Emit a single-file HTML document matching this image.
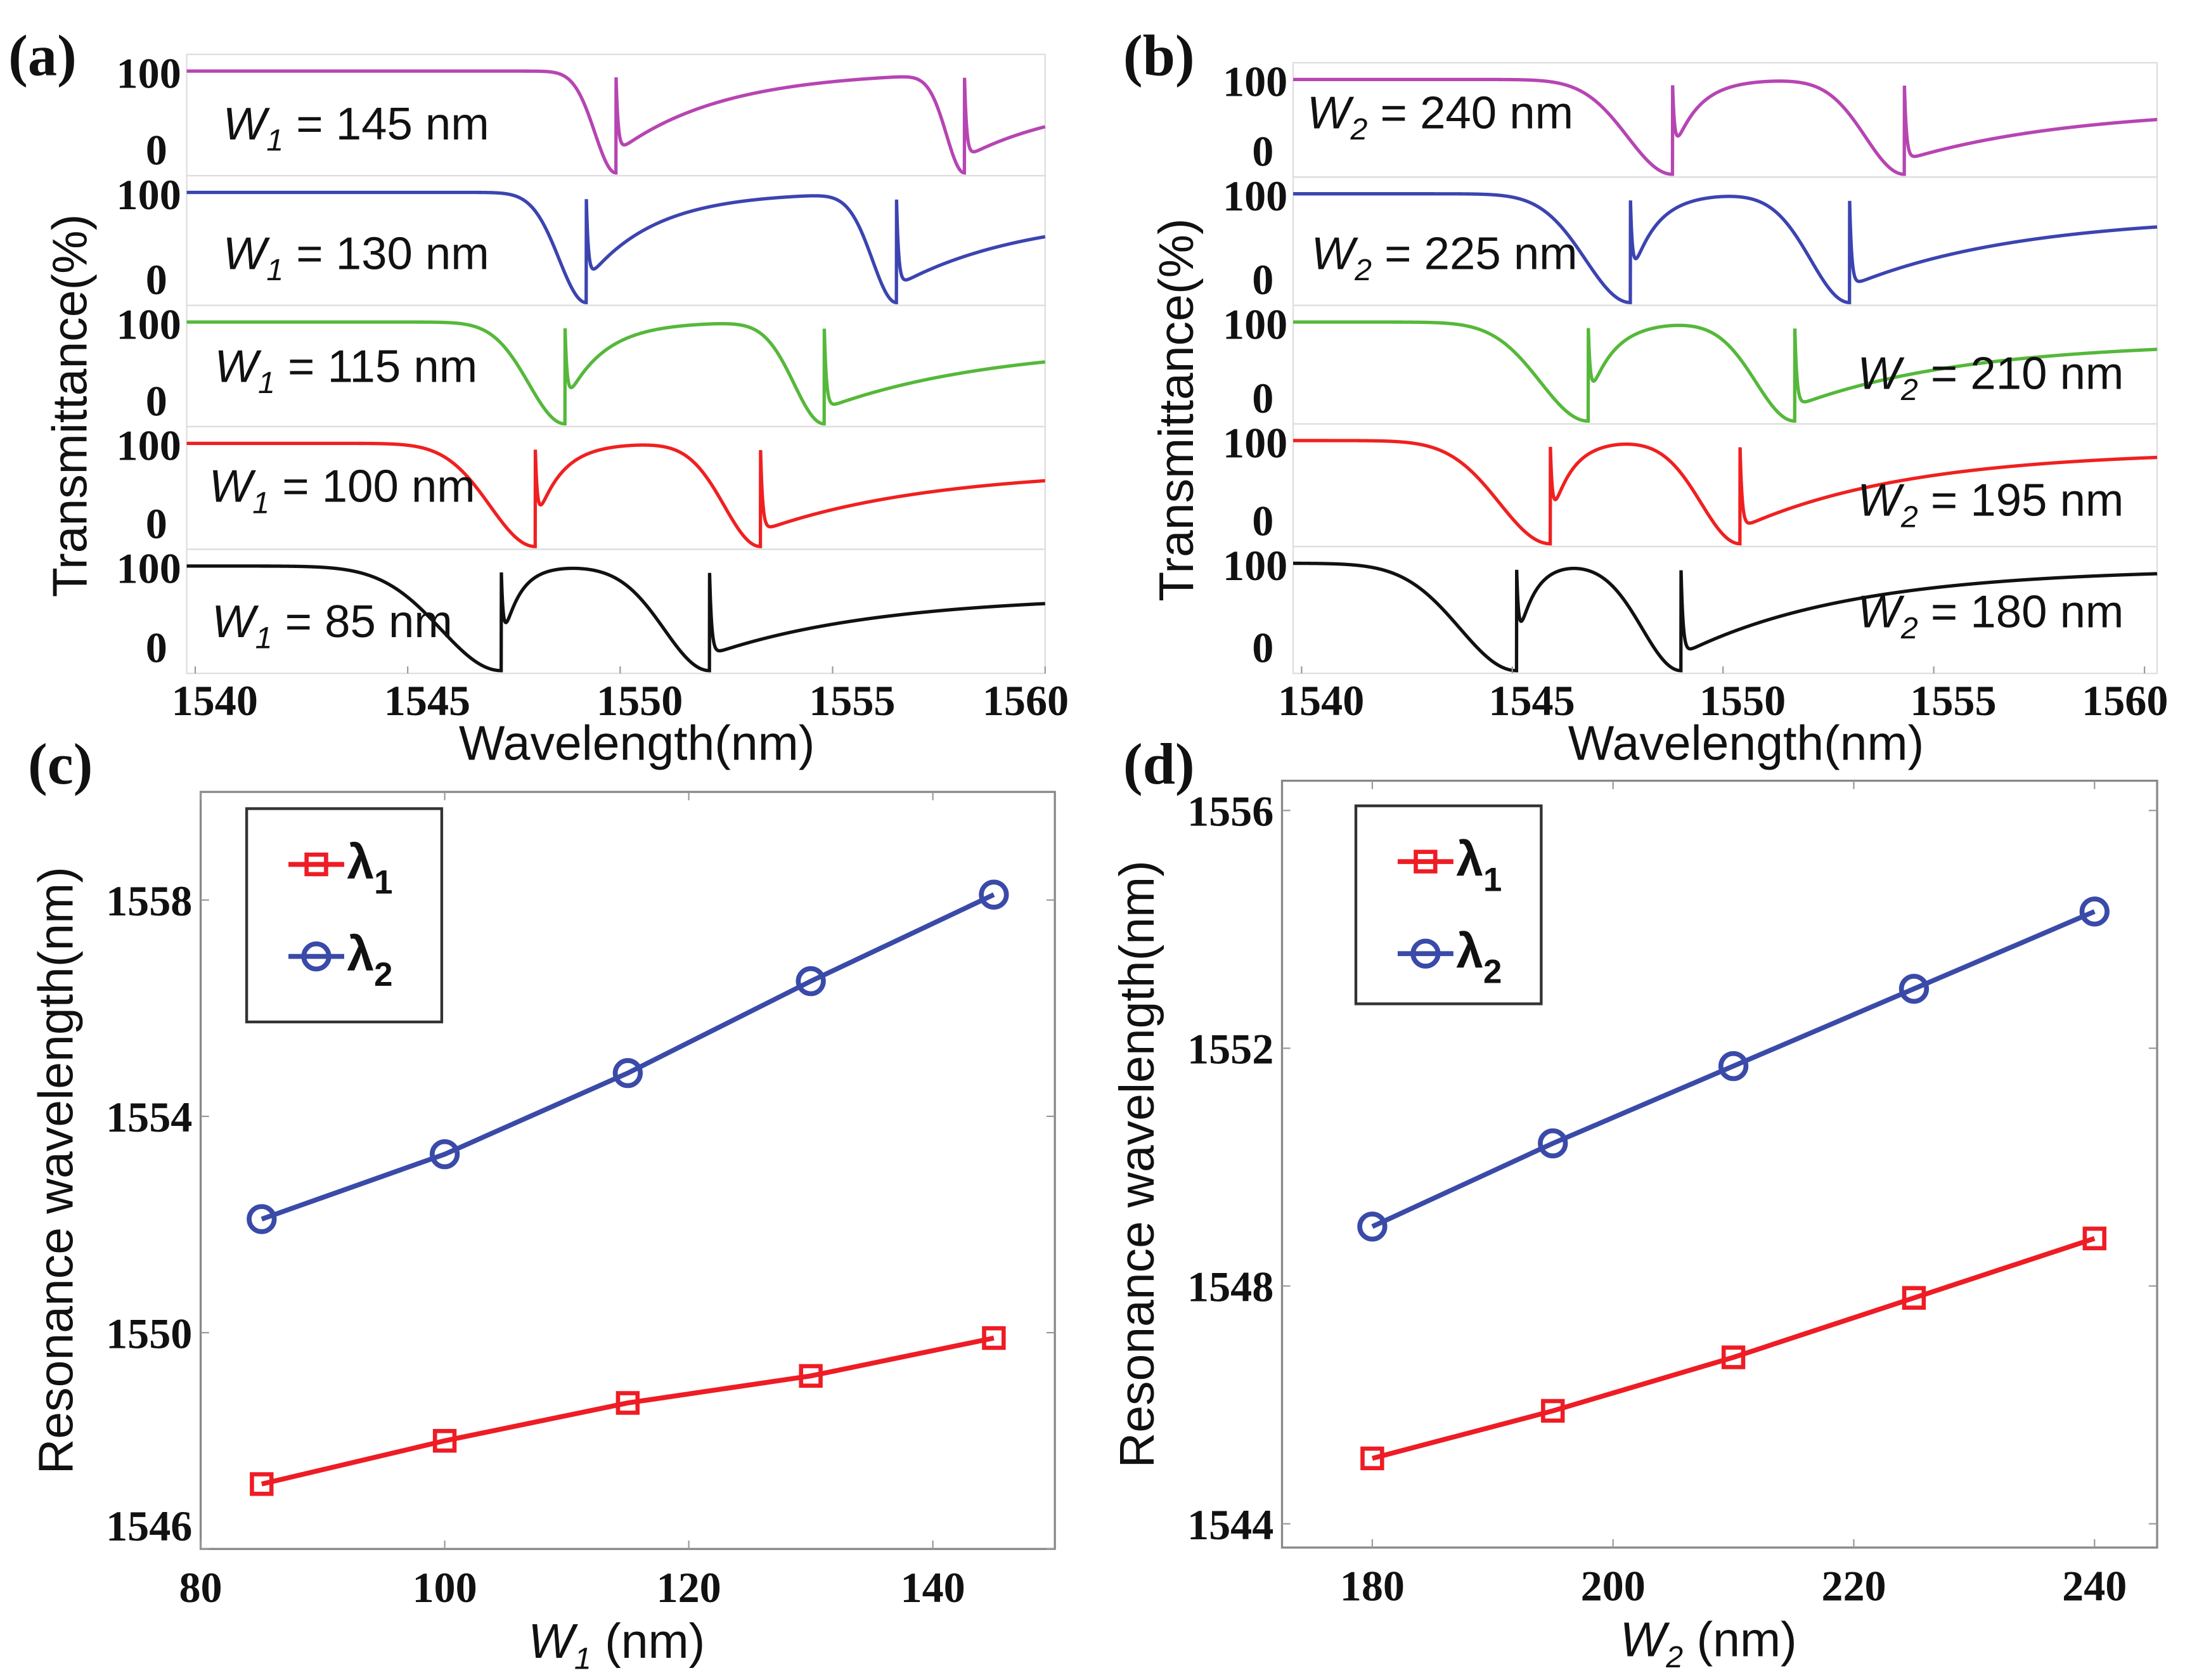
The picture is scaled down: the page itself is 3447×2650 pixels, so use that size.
<!DOCTYPE html>
<html><head><meta charset="utf-8"><style>
html,body{margin:0;padding:0;background:#fff}
svg{display:block}
.tk{font-family:"Liberation Serif",serif;font-weight:bold;font-size:31px;fill:#111}
.ax{font-family:"Liberation Sans",sans-serif;font-size:35px;fill:#111}
.pl{font-family:"Liberation Serif",serif;font-weight:bold;font-size:42px;fill:#111}
.lb{font-family:"Liberation Sans",sans-serif;font-size:33px;fill:#111}
</style></head><body>
<svg id="fig" width="3447" height="2650" viewBox="0 0 1568 1205" preserveAspectRatio="none">
<rect width="1568" height="1205" fill="#fff"/>
<text class="pl" x="6" y="54">(a)</text>
<text class="pl" x="806" y="54">(b)</text>
<text class="pl" x="20" y="562">(c)</text>
<text class="pl" x="806" y="562">(d)</text>
<g id="ga"></g>
<g id="gb"></g>
<g id="gc"></g>
<g id="gd"></g>
</svg>
<script>
// ---- data ----
const widthsA = [145, 130, 115, 100, 85];
const lam1A = [1549.9, 1549.2, 1548.7, 1548.0, 1547.2];
const lam2A = [1558.1, 1556.5, 1554.8, 1553.3, 1552.1];
const widthsB = [240, 225, 210, 195, 180];
const lam1B = [1548.8, 1547.8, 1546.8, 1545.9, 1545.1];
const lam2B = [1554.3, 1553.0, 1551.7, 1550.4, 1549.0];
const xTicksSpec = [1540, 1545, 1550, 1555, 1560];
const w1Vals = [85, 100, 115, 130, 145];
const lam1C = [1547.2, 1548.0, 1548.7, 1549.2, 1549.9];
const lam2C = [1552.1, 1553.3, 1554.8, 1556.5, 1558.1];
const w2Vals = [180, 195, 210, 225, 240];
const lam1D = [1545.1, 1545.9, 1546.8, 1547.8, 1548.8];
const lam2D = [1549.0, 1550.4, 1551.7, 1553.0, 1554.3];
const xTicksC = [80, 100, 120, 140];
const yTicksC = [1546, 1550, 1554, 1558];
const xTicksD = [180, 200, 220, 240];
const yTicksD = [1544, 1548, 1552, 1556];
// shape parameters per curve (a), (b)
const shapeA = {w1:[0.7,0.9,1.2,1.5,2.0], r:[2.5,1.6,0.9,0.6,0.4], w2:[0.6,0.8,1.0,1.2,1.5], end:[0.72,0.8,0.78,0.75,0.72], r2:[2.5,3,4,4,4]};
const shapeB = {w1:[1.5,1.5,1.6,1.7,1.9], r:[0.6,0.6,0.6,0.5,0.4], w2:[1.3,1.3,1.3,1.3,1.3], end:[0.7,0.8,0.8,0.9,0.95], r2:[4,4,4,4,4]};
const colors = ['#b645b2','#3b44b0','#55b83a','#f02020','#111'];

const NS='http://www.w3.org/2000/svg';
function mk(parent,tag,attrs,name,text){const e=document.createElementNS(NS,tag);for(const k in attrs)e.setAttribute(k,attrs[k]);


if(text!==undefined)e.textContent=text;parent.appendChild(e);return e;}

function T(x,l1,l2,s,i){
  let v;
  if(x<l1){v=1-Math.exp(-Math.pow((l1-x)/s.w1[i],2));}
  else if(x<l2){
    let rec=1-0.8*Math.exp(-(x-l1)/s.r[i]);
    let d2=1-Math.exp(-Math.pow((l2-x)/s.w2[i],2));
    v=rec*d2; v=v+(1-v)*Math.exp(-(x-l1)/0.05);
  } else {
    let e=s.end[i];
    v=e-(e-0.15)*Math.exp(-(x-l2)/s.r2[i]);
    v=v+(1-v)*Math.exp(-(x-l2)/0.05);
  }
  return v;
}

function spectra(g,x0,x1,wl0,wl1,bands,l1s,l2s,ws,s,labels,key){
  const X=w=>x0+(w-wl0)*(x1-x0)/(wl1-wl0);
  for(let i=0;i<5;i++){
    const [t,b]=bands[i];
    mk(g,'rect',{x:x0,y:t,width:x1-x0,height:b-t,fill:'none',stroke:'#ddd','stroke-width':1},'subplot-frame-'+ws[i]);
    const y100=t+12,y0=b-2;
    const Y=v=>y0-(y0-y100)*v;
    let pts=[];
    for(let w=wl0;w<=wl1;w+=0.004){pts.push(X(w).toFixed(2)+','+Y(T(w,l1s[i],l2s[i],s,i)).toFixed(2));}
    mk(g,'polyline',{points:pts.join(' '),fill:'none',stroke:colors[i],'stroke-width':2.4},'spectrum-'+key+'-'+ws[i]);
    mk(g,'text',{class:'tk',x:x0-4,y:y100+12,'text-anchor':'end'},'ytick-100-'+ws[i],'100');
    mk(g,'text',{class:'tk',x:x0-14,y:b-8,'text-anchor':'end'},'ytick-0-'+ws[i],'0');
    const L=labels[i];
    const tx=mk(g,'text',{class:'lb',x:L[0],y:L[1]},'curve-label-'+ws[i]);
    const a=document.createElementNS(NS,'tspan');a.setAttribute('font-style','italic');a.textContent='W';tx.appendChild(a);
    const sb=document.createElementNS(NS,'tspan');sb.setAttribute('font-style','italic');sb.setAttribute('font-size','22');sb.setAttribute('dy','8');sb.textContent=key=='a'?'1':'2';tx.appendChild(sb);
    const r=document.createElementNS(NS,'tspan');r.setAttribute('dy','-8');r.textContent=' = '+ws[i]+' nm';tx.appendChild(r);
  }
  xTicksSpec.forEach((v,j)=>{
    mk(g,'line',{x1:X(v),x2:X(v),y1:bands[4][1],y2:bands[4][1]-5,stroke:'#999'},'xtick-mark-'+v);
    const off = j===xTicksSpec.length-1 ? -14 : 14;
    mk(g,'text',{class:'tk',x:X(v)+off,y:bands[4][1]+30,'text-anchor':'middle'},'xtick-'+v,String(v));
  });
  mk(g,'text',{class:'ax',x:(x0+x1)/2+15,y:bands[4][1]+62,'text-anchor':'middle'},'x-axis-title','Wavelength(nm)');
  const cy=(bands[0][0]+bands[4][1])/2+30;
  mk(g,'text',{class:'ax',x:0,y:0,'text-anchor':'middle',transform:'translate('+(x0-72)+','+cy+') rotate(-90)'},'y-axis-title','Transmittance(%)');
}
spectra(document.getElementById('ga'),134,750,1539.8,1560,[[39,126],[126,219],[219,306],[306,394],[394,483]],lam1A,lam2A,widthsA,shapeA,
 [[160,100],[160,193],[154,274],[150,360],[152,457]],'a');
spectra(document.getElementById('gb'),928,1548,1539.8,1560.3,[[45,127],[127,219],[219,304],[304,392],[392,483]],lam1B,lam2B,widthsB,shapeB,
 [[938,92],[941,193],[1333,279],[1333,370],[1333,450]],'b');

function scatter(g,fr,xr,yr,xs,y1,y2,xt,yt,xlabelSub,leg){
  const [L,R,Tp,B]=fr;
  const X=v=>L+(v-xr[0])*(R-L)/(xr[1]-xr[0]);
  const Y=v=>B-(v-yr[0])*(B-Tp)/(yr[1]-yr[0]);
  mk(g,'rect',{x:L,y:Tp,width:R-L,height:B-Tp,fill:'none',stroke:'#888','stroke-width':1.5},'plot-frame');
  xt.forEach(v=>{mk(g,'line',{x1:X(v),x2:X(v),y1:B,y2:B-6,stroke:'#999'},'xtick-mark-'+v);
    mk(g,'line',{x1:X(v),x2:X(v),y1:Tp,y2:Tp+6,stroke:'#999'},'xtick-mark-top-'+v);
    mk(g,'text',{class:'tk',x:X(v),y:B+38,'text-anchor':'middle'},'xtick-'+v,String(v));});
  yt.forEach(v=>{mk(g,'line',{x1:L,x2:L+6,y1:Y(v),y2:Y(v),stroke:'#999'},'ytick-mark-'+v);
    mk(g,'line',{x1:R,x2:R-6,y1:Y(v),y2:Y(v),stroke:'#999'},'ytick-mark-right-'+v);
    let yy=Y(v)+11; if(yy>B-2) yy=B-6;
    mk(g,'text',{class:'tk',x:L-6,y:yy,'text-anchor':'end'},'ytick-'+v,String(v));});
  const ln=(ys,c,n)=>mk(g,'polyline',{points:xs.map((x,i)=>X(x)+','+Y(ys[i])).join(' '),fill:'none',stroke:c,'stroke-width':3.5},n);
  ln(y1,'#ee1c24','line-lambda1'); ln(y2,'#3a4aa8','line-lambda2');
  xs.forEach((x,i)=>{
    mk(g,'rect',{x:X(x)-7,y:Y(y1[i])-7,width:14,height:14,fill:'none',stroke:'#ee1c24','stroke-width':3},'marker-lambda1-'+x);
    mk(g,'circle',{cx:X(x),cy:Y(y2[i]),r:9,fill:'none',stroke:'#3a4aa8','stroke-width':3.5},'marker-lambda2-'+x);
  });
  const tx=mk(g,'text',{class:'ax',x:(L+R)/2-8,y:B+78,'text-anchor':'middle'},'x-axis-title');
  const a=document.createElementNS(NS,'tspan');a.setAttribute('font-style','italic');a.textContent='W';tx.appendChild(a);
  const s=document.createElementNS(NS,'tspan');s.setAttribute('font-style','italic');s.setAttribute('font-size','22');s.setAttribute('dy','8');s.textContent=xlabelSub;tx.appendChild(s);
  const r=document.createElementNS(NS,'tspan');r.setAttribute('dy','-8');r.textContent=' (nm)';tx.appendChild(r);
  mk(g,'text',{class:'ax',x:0,y:0,'text-anchor':'middle',transform:'translate('+(L-92)+','+((Tp+B)/2)+') rotate(-90)'},'y-axis-title','Resonance wavelength(nm)');
  const [lx,ly,lw,lh]=leg;
  const lg=mk(g,'g',{},'legend');
  mk(lg,'rect',{x:lx,y:ly,width:lw,height:lh,fill:'#fff',stroke:'#333','stroke-width':2},'legend-box');
  mk(lg,'line',{x1:lx+30,x2:lx+70,y1:ly+40,y2:ly+40,stroke:'#ee1c24','stroke-width':3.5},'legend-line-lambda1');
  mk(lg,'rect',{x:lx+43,y:ly+33,width:14,height:14,fill:'none',stroke:'#ee1c24','stroke-width':3},'legend-marker-lambda1');
  mk(lg,'line',{x1:lx+30,x2:lx+70,y1:ly+106,y2:ly+106,stroke:'#3a4aa8','stroke-width':3.5},'legend-line-lambda2');
  mk(lg,'circle',{cx:lx+50,cy:ly+106,r:9,fill:'none',stroke:'#3a4aa8','stroke-width':3.5},'legend-marker-lambda2');
  const t1=mk(lg,'text',{class:'ax','font-weight':'bold',x:lx+72,y:ly+50},'legend-label-lambda1');
  t1.innerHTML='λ<tspan font-size="24" dy="11">1</tspan>';
  const t2=mk(lg,'text',{class:'ax','font-weight':'bold',x:lx+72,y:ly+116},'legend-label-lambda2');
  t2.innerHTML='λ<tspan font-size="24" dy="11">2</tspan>';
}
scatter(document.getElementById('gc'),[144,757,568,1111],[80,150],[1546,1560],w1Vals,lam1C,lam2C,xTicksC,yTicksC,'1',[177,580,140,153]);
scatter(document.getElementById('gd'),[920,1548,560,1110],[172.5,245.2],[1543.6,1556.5],w2Vals,lam1D,lam2D,xTicksD,yTicksD,'2',[973,578,133,142]);
</script>
</body></html>
